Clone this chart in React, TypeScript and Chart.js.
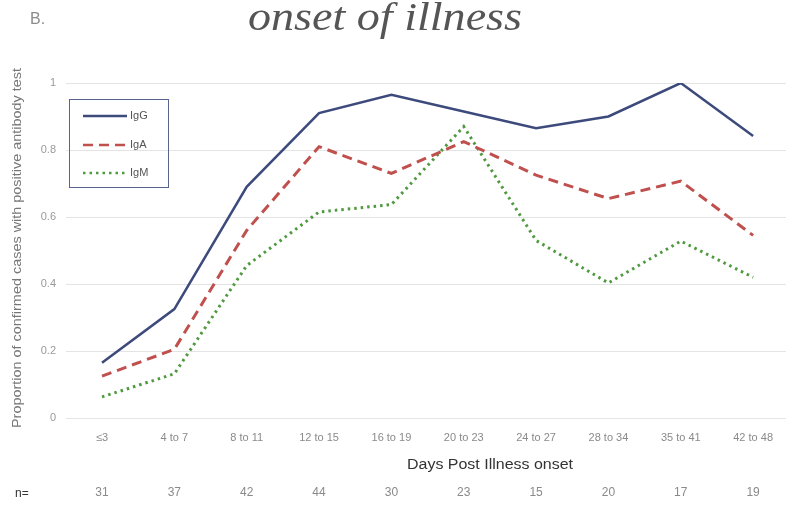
import React, { useEffect, useRef } from "react";
import { Chart, registerables } from "chart.js";

Chart.register(...registerables);

// Days since illness onset, grouped
const categories = ["≤3", "4 to 7", "8 to 11", "12 to 15", "16 to 19", "20 to 23", "24 to 27", "28 to 34", "35 to 41", "42 to 48"];
// Proportion of confirmed cases with a positive test per antibody class
const igG = [0.165, 0.325, 0.69, 0.91, 0.965, 0.915, 0.865, 0.9, 1.0, 0.842];
const igA = [0.125, 0.205, 0.56, 0.81, 0.73, 0.825, 0.725, 0.655, 0.707, 0.545];
const igM = [0.063, 0.132, 0.455, 0.615, 0.637, 0.87, 0.53, 0.403, 0.528, 0.42];
// Number of cases in each group
const caseCounts = [31, 37, 42, 44, 30, 23, 15, 20, 17, 19];
const yTicks = [0, 0.2, 0.4, 0.6, 0.8, 1];

const COLORS = { igG: "#3d4a7c", igA: "#c0504d", igM: "#4f9a3f" };
const DASH_IGA = [10, 6];
const DASH_IGM = [2.5, 4];
const SANS = '"Liberation Sans Narrow", "Liberation Sans", Arial, sans-serif';

// Draw text squeezed or stretched horizontally to a given width
function fitText(ctx: CanvasRenderingContext2D, text: string, x: number, y: number, width: number) {
  const w = ctx.measureText(text).width;
  ctx.save();
  ctx.translate(x, y);
  ctx.scale(width / w, 1);
  ctx.fillText(text, 0, 0);
  ctx.restore();
}

const decorations = {
  id: "decorations",
  beforeDatasetsDraw(chart: any) {
    const { ctx } = chart;
    const ys = chart.scales.y;
    const xs = chart.scales.x;
    ctx.save();
    ctx.strokeStyle = "#e4e4e4";
    ctx.lineWidth = 1;
    for (const v of yTicks) {
      const py = Math.round(ys.getPixelForValue(v)) + 0.5;
      ctx.beginPath();
      ctx.moveTo(xs.left - 36, py);
      ctx.lineTo(chart.width, py);
      ctx.stroke();
    }
    ctx.restore();
  },
  afterDraw(chart: any) {
    const { ctx } = chart;
    const xs = chart.scales.x;
    ctx.save();

    // Panel letter
    ctx.fillStyle = "#8c8c8c";
    ctx.font = `16px ${SANS}`;
    ctx.textAlign = "left";
    ctx.textBaseline = "middle";
    ctx.fillText("B.", 30, 20);

    // Title (second line)
    ctx.fillStyle = "#555555";
    ctx.font = 'italic 40px "Liberation Serif", "DejaVu Serif", serif';
    ctx.textAlign = "left";
    ctx.textBaseline = "alphabetic";
    fitText(ctx, "onset of illness", 248, 30, 274);

    // Y axis title
    ctx.save();
    ctx.translate(18, 245);
    ctx.rotate(-Math.PI / 2);
    ctx.fillStyle = "#777777";
    ctx.font = `12px ${SANS}`;
    ctx.textAlign = "left";
    ctx.textBaseline = "middle";
    fitText(ctx, "Proportion of confirmed cases with positive antibody test", -183, 0, 360);
    ctx.restore();

    // X axis title
    ctx.fillStyle = "#333333";
    ctx.font = `14px ${SANS}`;
    ctx.textAlign = "left";
    ctx.textBaseline = "middle";
    fitText(ctx, "Days Post Illness onset", 407, 465, 166);

    // Case counts row
    ctx.font = `12px ${SANS}`;
    ctx.fillStyle = "#333333";
    ctx.textAlign = "left";
    ctx.fillText("n=", 15, 494);
    ctx.fillStyle = "#8a8a8a";
    ctx.textAlign = "center";
    caseCounts.forEach((n, i) => {
      ctx.fillText(String(n), xs.getPixelForValue(i), 493);
    });

    // Legend box
    ctx.strokeStyle = "#5a6290";
    ctx.lineWidth = 1;
    ctx.strokeRect(69.5, 99.5, 99, 88);
    const entries = [
      { label: "IgG", color: COLORS.igG, dash: [] as number[], y: 116 },
      { label: "IgA", color: COLORS.igA, dash: DASH_IGA, y: 145 },
      { label: "IgM", color: COLORS.igM, dash: DASH_IGM, y: 173 },
    ];
    ctx.font = `11px ${SANS}`;
    ctx.textAlign = "left";
    ctx.textBaseline = "middle";
    for (const e of entries) {
      ctx.strokeStyle = e.color;
      ctx.lineWidth = 2.5;
      ctx.setLineDash(e.dash);
      ctx.beginPath();
      ctx.moveTo(83, e.y);
      ctx.lineTo(127, e.y);
      ctx.stroke();
      ctx.setLineDash([]);
      ctx.fillStyle = "#555555";
      ctx.fillText(e.label, 130, e.y);
    }
    ctx.restore();
  },
};

export default function App() {
  const ref = useRef<HTMLCanvasElement | null>(null);

  useEffect(() => {
    if (!ref.current) return;
    const chart = new Chart(ref.current, {
      type: "line",
      data: {
        labels: categories,
        datasets: [
          {
            label: "IgG",
            data: igG,
            borderColor: COLORS.igG,
            borderWidth: 2.5,
            pointRadius: 0,
            tension: 0,
          },
          {
            label: "IgA",
            data: igA,
            borderColor: COLORS.igA,
            borderWidth: 3,
            borderDash: DASH_IGA,
            pointRadius: 0,
            tension: 0,
          },
          {
            label: "IgM",
            data: igM,
            borderColor: COLORS.igM,
            borderWidth: 3,
            borderDash: DASH_IGM,
            pointRadius: 0,
            tension: 0,
          },
        ],
      },
      options: {
        animation: false,
        responsive: true,
        maintainAspectRatio: false,
        layout: { padding: { top: 83, right: 28, left: 0, bottom: 0 } },
        plugins: { legend: { display: false }, tooltip: { enabled: false } },
        scales: {
          x: {
            offset: false,
            grid: { display: false, drawTicks: false },
            border: { display: false },
            ticks: {
              color: "#8a8a8a",
              font: { size: 11, family: SANS },
              padding: 13,
              maxRotation: 0,
              autoSkip: false,
            },
            afterFit(scale: any) {
              scale.height = 88;
            },
          },
          y: {
            min: 0,
            max: 1,
            grid: { display: false, drawTicks: false },
            border: { display: false },
            ticks: {
              stepSize: 0.2,
              color: "#9a9a9a",
              font: { size: 11, family: SANS },
              padding: 46,
              callback: (v: any) => String(Number(Number(v).toFixed(1))),
            },
            afterFit(scale: any) {
              scale.width = 102;
            },
          },
        },
      },
      plugins: [decorations],
    });
    return () => chart.destroy();
  }, []);

  return (
    <div style={{ position: "fixed", left: 0, top: 0, width: 786, height: 506, background: "#ffffff" }}>
      <canvas ref={ref} />
    </div>
  );
}
